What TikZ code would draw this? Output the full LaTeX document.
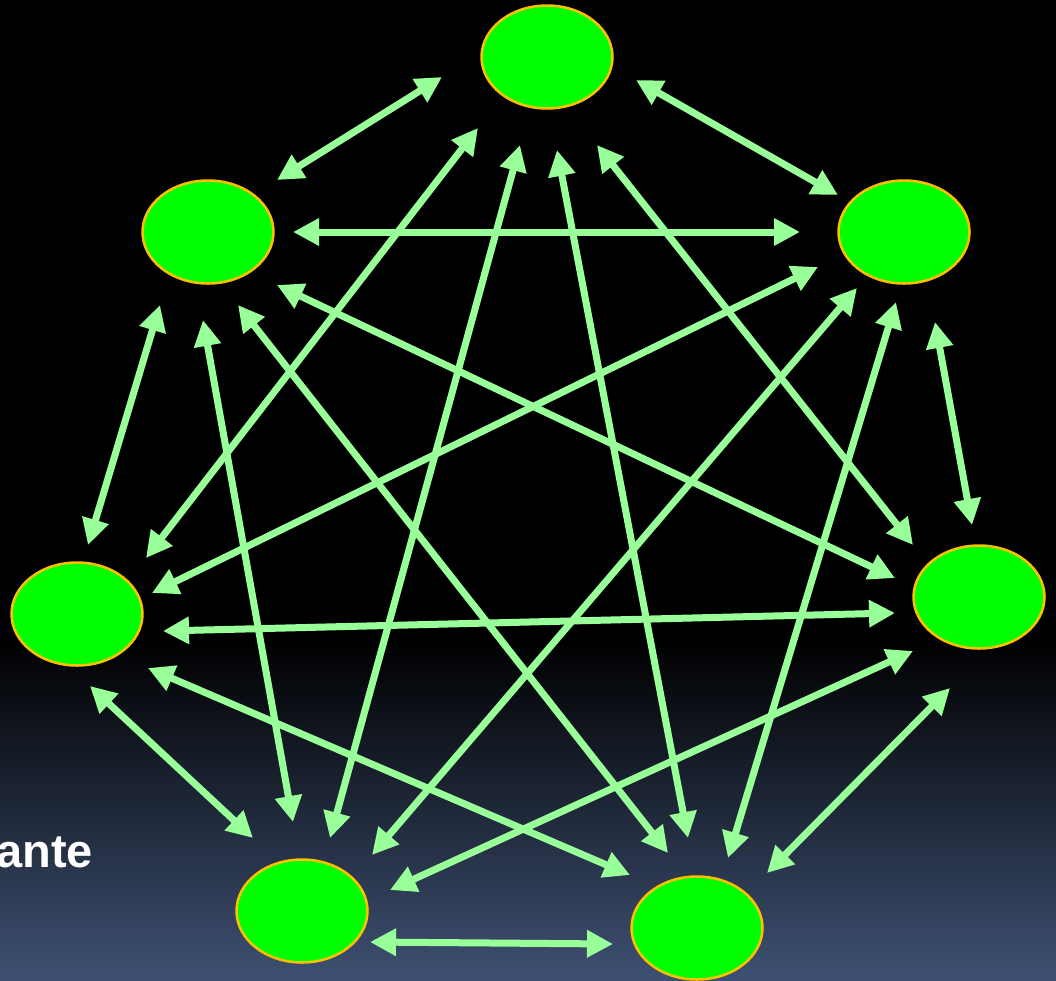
\documentclass[tikz,border=0pt]{standalone}
\usepackage{fontspec}
\setmainfont{Liberation Sans}
\usetikzlibrary{shapes.geometric,arrows.meta}
\definecolor{nodegreen}{RGB}{0,255,0}
\definecolor{nodeedge}{RGB}{255,192,0}
\definecolor{arrowgreen}{RGB}{153,255,153}
\definecolor{bgbottom}{RGB}{62,80,114}
\tikzset{
  blob/.style={ellipse,draw=nodeedge,fill=nodegreen,line width=2.5pt,minimum width=131pt,minimum height=103pt,inner sep=0pt},
  link/.style={draw=arrowgreen,line width=7pt,{Triangle[length=26pt,width=26pt]}-{Triangle[length=26pt,width=26pt]}}
}
\begin{document}
\begin{tikzpicture}[x=1pt,y=-1pt]
\useasboundingbox (0,0) rectangle (1056,980);
\fill[black] (0,0) rectangle (1056,642);
\shade[top color=black,bottom color=bgbottom] (0,640) rectangle (1056,980);
\node[anchor=base east,text=white,font=\bfseries\fontsize{47}{50}\selectfont,inner sep=0pt] (txt) at (93,867) {ante};
% nodes
\node[blob] (A) at (547,57) {};
\node[blob] (B) at (208,232) {};
\node[blob] (C) at (904,232) {};
\node[blob] (D) at (77,614) {};
\node[blob] (E) at (979,597) {};
\node[blob] (F) at (302,911) {};
\node[blob] (G) at (697,928) {};
% arrow end points
\coordinate (ab1) at (442,77);  \coordinate (ab2) at (277,180);
\coordinate (ac1) at (636,80);  \coordinate (ac2) at (838,195);
\coordinate (bc1) at (293,232); \coordinate (bc2) at (800,232);
\coordinate (bd1) at (160,305); \coordinate (bd2) at (88,545);
\coordinate (ce1) at (935,322); \coordinate (ce2) at (972,525);
\coordinate (de1) at (163,631); \coordinate (de2) at (895,613);
\coordinate (df1) at (90,686);  \coordinate (df2) at (253,838);
\coordinate (eg1) at (950,688); \coordinate (eg2) at (767,873);
\coordinate (fg1) at (370,942); \coordinate (fg2) at (613,944);
\coordinate (ad1) at (478,128); \coordinate (ad2) at (146,558);
\coordinate (af1) at (520,145); \coordinate (af2) at (330,838);
\coordinate (ag1) at (557,150); \coordinate (ag2) at (688,838);
\coordinate (ae1) at (597,145); \coordinate (ae2) at (913,545);
\coordinate (be1) at (277,285); \coordinate (be2) at (895,578);
\coordinate (bf1) at (203,320); \coordinate (bf2) at (293,822);
\coordinate (bg1) at (238,305); \coordinate (bg2) at (668,853);
\coordinate (cd1) at (818,267); \coordinate (cd2) at (152,593);
\coordinate (cf1) at (857,288); \coordinate (cf2) at (372,855);
\coordinate (cg1) at (896,302); \coordinate (cg2) at (728,858);
\coordinate (dg1) at (148,668); \coordinate (dg2) at (630,875);
\coordinate (ef1) at (913,651); \coordinate (ef2) at (390,890);
% connectors
\foreach \p in {ab,ac,bc,bd,ce,de,df,eg,fg,ad,af,ag,ae,be,bf,bg,cd,cf,cg,dg,ef}
  \draw[link] (\p1) -- (\p2);
\end{tikzpicture}
\end{document}
